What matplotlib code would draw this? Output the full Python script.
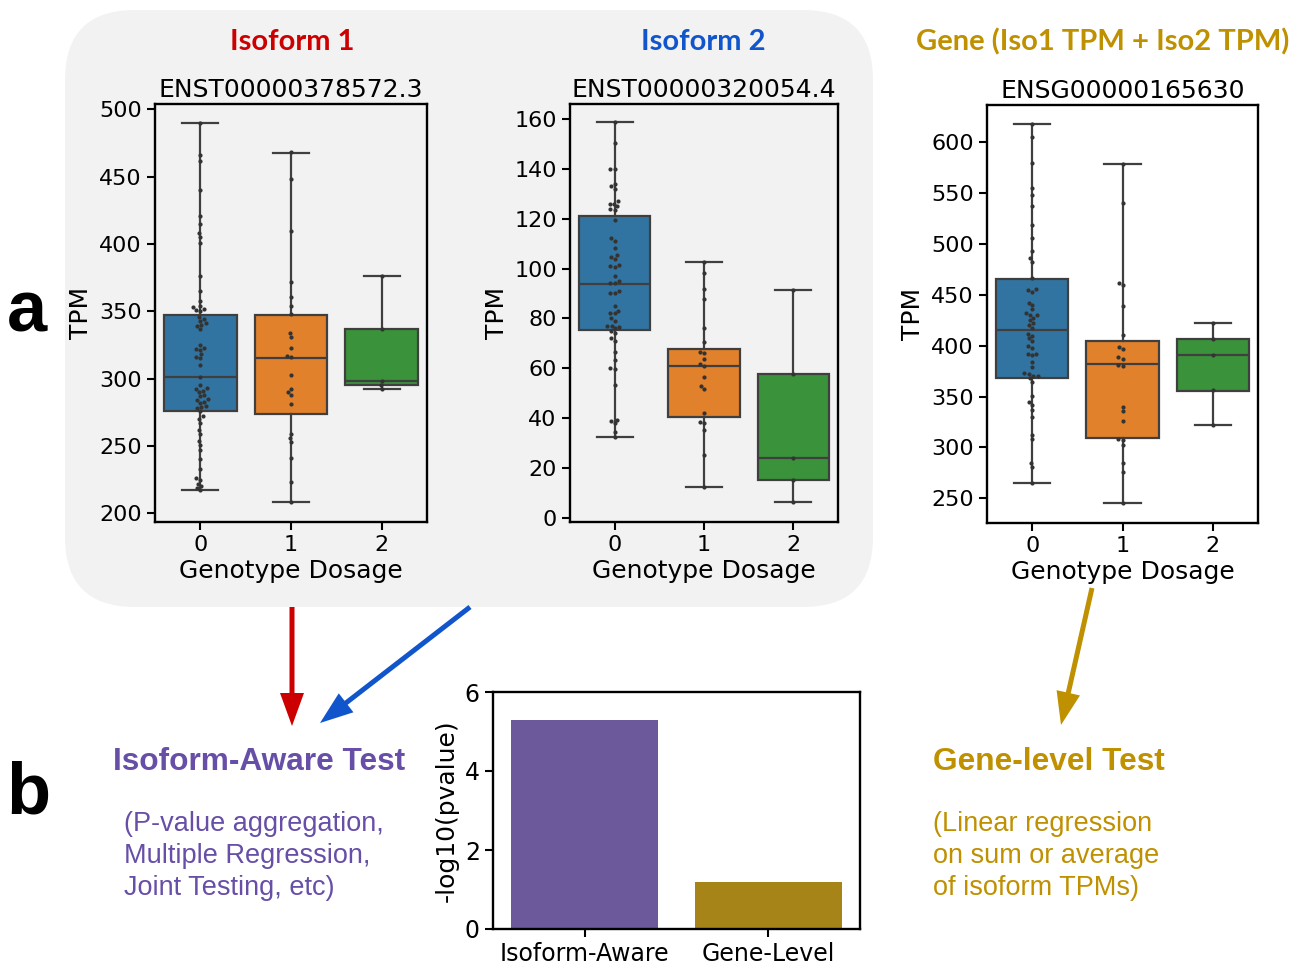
import numpy as np
import pandas as pd
import seaborn as sns
import matplotlib.pyplot as plt
from matplotlib.patches import FancyBboxPatch, FancyArrow

# ---- data ----
dosage = [0, 1, 2]

# isoform 1 (ENST00000378572.3)
iso1_g0 = [490, 466, 462, 440, 421, 415, 408, 405, 401, 376, 365, 358, 354, 353, 351, 352, 350,
           346, 344, 343, 341, 340, 339, 337, 325, 323, 322, 321, 318, 316, 315, 310, 301, 295,
           293, 292, 291, 290, 288, 287, 285, 284, 283, 282, 280, 279, 278, 276, 272, 270, 267,
           262, 259, 254, 251, 247, 240, 233, 226, 225, 222, 220, 219, 217]
iso1_g1 = [468, 448, 410, 372, 361, 354, 348, 334, 331, 323, 317, 316, 303, 292, 290, 288, 281,
           259, 256, 253, 241, 223, 208]
iso1_g2 = [292, 295, 298, 337, 376]
# box stats: whislo, q1, med, q3, whishi
iso1_box = [(217, 276, 301, 347, 490), (208, 273.5, 315, 347.5, 467.5), (292, 295, 298, 337, 376)]

# isoform 2 (ENST00000320054.4)
iso2_g0 = [158.7, 150.4, 140, 139.9, 134, 133, 131.9, 126.9, 126, 126, 124.9, 124, 123.6, 119.3,
           112.2, 111.1, 108.2, 105.5, 104.8, 104, 101.5, 101, 100.8, 96.8, 94.8, 94.1, 94, 90.8,
           90.1, 90, 84.8, 83, 82.1, 82, 80.1, 79.1, 77, 77, 76.5, 76, 75.1, 74, 72, 71.1, 66.7,
           63.3, 60, 59.6, 53.3, 39.2, 39, 37.9, 34.5, 32.5]
iso2_g1 = [102.7, 98.1, 91.7, 87.8, 76.3, 70.7, 66.7, 66.3, 63.6, 61.6, 60.7, 56.6, 52.9, 51.6,
           42, 38.6, 37.9, 35.2, 25.2, 12.2]
iso2_g2 = [6.2, 15.1, 24.1, 57.7, 91.3]
iso2_box = [(32.4, 75.4, 93.6, 120.9, 158.7), (12.2, 40.6, 60.7, 67.8, 102.7), (6.2, 15.1, 24.1, 57.7, 91.3)]

# gene (ENSG00000165630)
gene_g0 = [618, 605.6, 579.4, 554.8, 548.2, 537.4, 518.7, 505.6, 493.5, 486, 482.7, 466.3, 455.5,
           455, 453.2, 442.4, 440, 435.8, 431.9, 430, 429.9, 427.6, 425, 422, 420, 417.1, 412, 410,
           407.3, 405, 399.8, 398, 392, 391.9, 390.9, 384.4, 378.8, 373, 372, 370.6, 370, 368,
           364.7, 350.6, 345, 341.8, 336.8, 329.6, 312.3, 308, 285, 281.1, 265.4]
gene_g1 = [578.4, 540.7, 461.4, 459.7, 439.1, 410.6, 398.5, 396.5, 388.6, 387.3, 381.1, 380.1,
           340.1, 335.9, 326.4, 308, 307.4, 302.4, 284.4, 276.2, 245.1]
gene_g2 = [322, 356, 391, 407, 422]
gene_box = [(265.4, 368, 415.5, 465.6, 618.4), (245, 309.6, 382, 405, 578.4), (321.8, 355.9, 390.9, 406.6, 422)]

bar_labels = ['Isoform-Aware', 'Gene-Level']
bar_values = [5.3, 1.2]

panels = [
    ('ENST00000378572.3', [iso1_g0, iso1_g1, iso1_g2], iso1_box, (193.5, 504), [200, 250, 300, 350, 400, 450, 500]),
    ('ENST00000320054.4', [iso2_g0, iso2_g1, iso2_g2], iso2_box, (-1.7, 166), [0, 20, 40, 60, 80, 100, 120, 140, 160]),
    ('ENSG00000165630', [gene_g0, gene_g1, gene_g2], gene_box, (225.7, 636.7), [250, 300, 350, 400, 450, 500, 550, 600]),
]

RED = '#cc0000'
BLUE = '#1155cc'
GOLD = '#bf9000'
PURPLE = '#674ea7'
GRAY_BG = '#f2f2f2'
EDGE = '#3f3f3f'

plt.rcParams['axes.linewidth'] = 1.7
plt.rcParams['xtick.major.width'] = 1.5
plt.rcParams['ytick.major.width'] = 1.5
plt.rcParams['xtick.major.size'] = 6
plt.rcParams['ytick.major.size'] = 6

fig = plt.figure(figsize=(13.04, 9.64), dpi=100)

# background layer in pixel units
bg = fig.add_axes([0, 0, 1, 1], zorder=-1)
bg.set_xlim(0, 1304)
bg.set_ylim(964, 0)
bg.axis('off')
bg.add_patch(FancyBboxPatch((65, 10), 808, 597, boxstyle='round,pad=0,rounding_size=70',
                            facecolor=GRAY_BG, edgecolor='none'))

box_colors = [sns.desaturate(c, 0.75) for c in sns.color_palette('tab10', 3)]

rects = [[155, 104, 427, 522], [570, 104, 838, 522], [987, 105, 1258, 523]]
for (title, groups, stats, ylim, yticks), r in zip(panels, rects):
    ax = fig.add_axes([r[0] / 1304, 1 - r[3] / 964, (r[2] - r[0]) / 1304, (r[3] - r[1]) / 964])
    ax.patch.set_alpha(0)
    ax.set_ylim(*ylim)
    ax.set_xlim(-0.5, 2.5)
    bstats = [dict(whislo=s[0], q1=s[1], med=s[2], q3=s[3], whishi=s[4], label=str(d))
              for s, d in zip(stats, dosage)]
    bp = ax.bxp(bstats, positions=dosage, widths=0.8, capwidths=0.4, patch_artist=True,
                showfliers=False,
                boxprops=dict(edgecolor=EDGE, linewidth=1.6),
                whiskerprops=dict(color=EDGE, linewidth=1.6),
                capprops=dict(color=EDGE, linewidth=1.6),
                medianprops=dict(color=EDGE, linewidth=1.6))
    for patch, c in zip(bp['boxes'], box_colors):
        patch.set_facecolor(c)
    df = pd.DataFrame({'x': np.concatenate([[d] * len(g) for d, g in zip(dosage, groups)]),
                       'y': np.concatenate(groups)})
    sns.swarmplot(data=df, x='x', y='y', order=dosage, ax=ax, color='.2', size=3, zorder=4)
    ax.set_xlim(-0.5, 2.5)
    ax.set_ylim(*ylim)
    ax.set_yticks(yticks)
    ax.set_xticks(dosage)
    ax.set_xticklabels([str(d) for d in dosage])
    ax.tick_params(labelsize=16)
    ax.set_title(title, fontsize=18, pad=5)
    ax.set_xlabel('Genotype Dosage', fontsize=18, labelpad=3)
    ax.set_ylabel('TPM', fontsize=18)

# bar chart
axb = fig.add_axes([493 / 1304, 1 - 929 / 964, 367 / 1304, 237 / 964])
bar_colors = [sns.desaturate(PURPLE, 0.75), sns.desaturate(GOLD, 0.75)]
axb.bar(range(len(bar_values)), bar_values, width=0.8, color=bar_colors)
axb.set_xlim(-0.5, 1.5)
axb.set_ylim(0, 6)
axb.set_yticks([0, 2, 4, 6])
axb.set_xticks(range(len(bar_labels)))
axb.set_xticklabels(bar_labels)
axb.tick_params(labelsize=17)
axb.set_ylabel('-log10(pvalue)', fontsize=18)

# headings
head = dict(family='Lato', fontweight='bold', fontsize=21, ha='center', va='center')
bg.text(292, 42, 'Isoform 1', color=RED, **head)
bg.text(703, 42, 'Isoform 2', color=BLUE, **head)
bg.text(1103, 42, 'Gene (Iso1 TPM + Iso2 TPM)', color=GOLD, **head)

bg.text(27, 313, 'a', family='Liberation Sans', fontweight='bold', fontsize=52, ha='center', va='center')
bg.text(28, 795, 'b', family='Liberation Sans', fontweight='bold', fontsize=52, ha='center', va='center')

bg.text(259, 762, 'Isoform-Aware Test', color=PURPLE, family='Liberation Sans',
        fontweight='bold', fontsize=22.8, ha='center', va='center')
bg.text(124, 856, '(P-value aggregation,\nMultiple Regression,\nJoint Testing, etc)', color=PURPLE,
        family='Liberation Sans', fontsize=19.5, ha='left', va='center', linespacing=1.3)
bg.text(933, 762, 'Gene-level Test', color=GOLD, family='Liberation Sans',
        fontweight='bold', fontsize=22.8, ha='left', va='center')
bg.text(933, 856, '(Linear regression\non sum or average\nof isoform TPMs)', color=GOLD,
        family='Liberation Sans', fontsize=19.5, ha='left', va='center', linespacing=1.3)

# arrows
arrows = [((292, 607), (292, 726), RED), ((470, 607), (320, 723), BLUE), ((1092, 588), (1061, 725), GOLD)]
for (x0, y0), (x1, y1), c in arrows:
    bg.add_patch(FancyArrow(x0, y0, x1 - x0, y1 - y0, width=5, head_width=24, head_length=33,
                            length_includes_head=True, color=c, lw=0))

fig.savefig('out.png', dpi=100)
